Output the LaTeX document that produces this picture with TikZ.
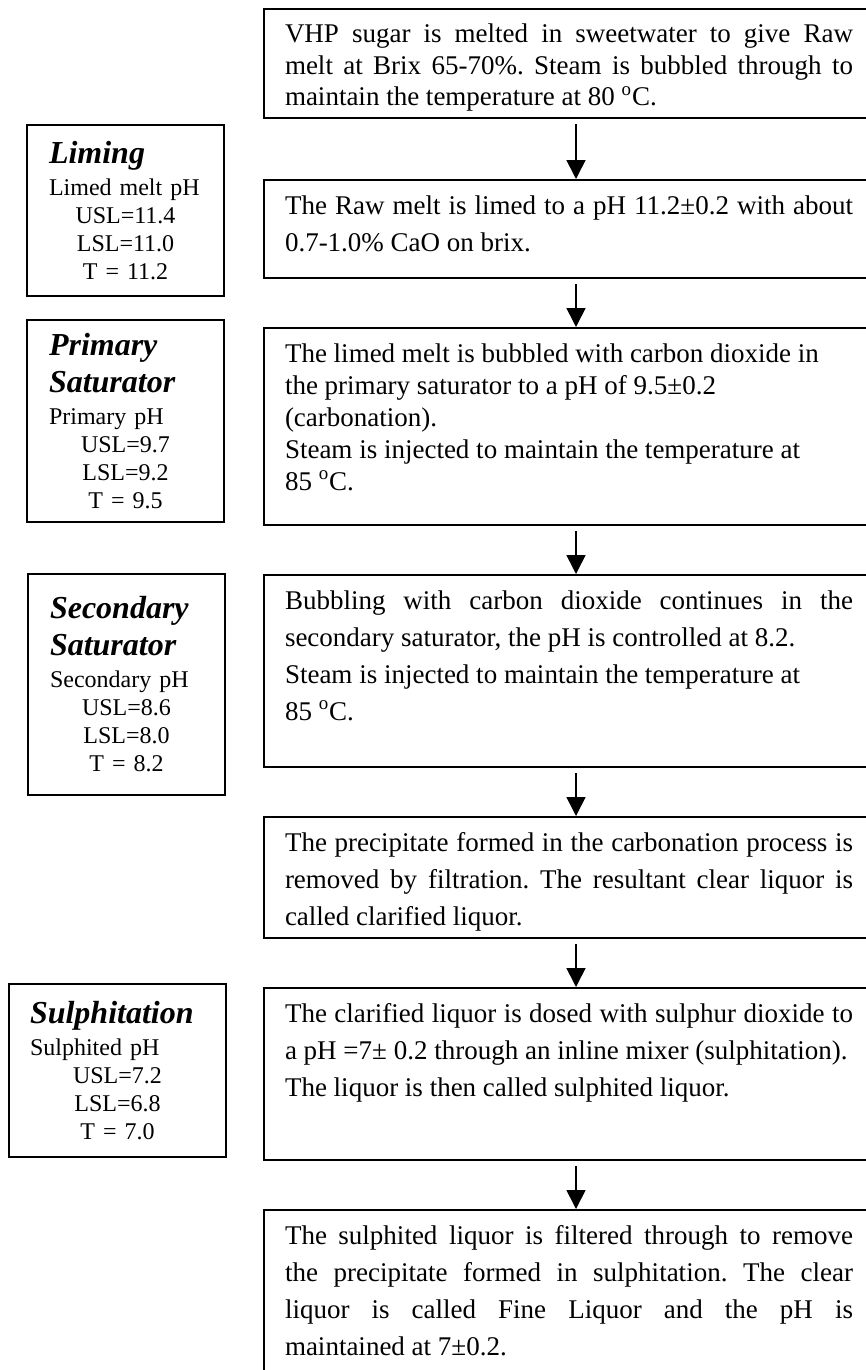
\documentclass[tikz,border=0pt]{standalone}
\usepackage{fontspec}
\setmainfont{Liberation Serif}
\usepackage{tikz}
\usetikzlibrary{positioning,arrows.meta}
\frenchspacing

\newcommand{\degC}{\textsuperscript{o}C}
\newcommand{\steptitle}[1]{{\fontsize{16}{18.5}\selectfont\bfseries\itshape #1\par}\vspace{2pt}}

\begin{document}
\begin{tikzpicture}[
			x=0.5pt, y=-0.5pt, node distance=24pt,
			procbox/.style={draw, line width=1pt, anchor=north west, text width=284pt, inner xsep=10.5pt, inner ysep=7pt, text height=10pt, align=justify, font=\fontsize{13.5}{18.5}\selectfont},
			specbox/.style={draw, line width=1pt, text width=76.5pt, inner xsep=11pt, align=left, font=\fontsize{12}{14}\selectfont},
			flow/.style={-{Triangle[length=9.5pt,width=9.5pt]}, line width=0.8pt, shorten <=2.5pt},
		]
		
			\path[use as bounding box, clip] (0,0) rectangle (866,1370);
		
			%Nodes
			\node[procbox, text depth=30.5pt, font=\fontsize{13.5}{15.75}\selectfont]	(melt)	at (263,8)
				{VHP sugar is melted in sweetwater to give Raw\linebreak melt at Brix 65-70\%. Steam is bubbled through to\linebreak maintain the temperature at 80 \degC.};
			\node[procbox, text depth=25pt, below=30pt of melt]	(limed)
				{The Raw melt is limed to a pH 11.2±0.2 with about\linebreak 0.7-1.0\% CaO on brix.};
			\node[procbox, text depth=74.5pt, font=\fontsize{13.5}{16}\selectfont, below=of limed]	(prim)
				{The limed melt is bubbled with carbon dioxide in\newline the primary saturator to a pH of 9.5±0.2\newline (carbonation).\newline Steam is injected to maintain the temperature at\newline 85 \degC.};
			\node[procbox, text depth=72pt, below=of prim]	(sec)
				{Bubbling with carbon dioxide continues in the\linebreak secondary saturator, the pH is controlled at 8.2.\newline Steam is injected to maintain the temperature at\newline 85 \degC.};
			\node[procbox, text depth=36.5pt, below=of sec]	(filt)
				{The precipitate formed in the carbonation process is\linebreak removed by filtration. The resultant clear liquor is\linebreak called clarified liquor.};
			\node[procbox, text depth=62pt, below=of filt]	(sulph)
				{The clarified liquor is dosed with sulphur dioxide to\linebreak a pH =7± 0.2 through an inline mixer (sulphitation).\newline The liquor is then called sulphited liquor.};
			\node[procbox, text depth=80pt, below=of sulph]	(fine)
				{The sulphited liquor is filtered through to remove\linebreak the precipitate formed in sulphitation. The clear\linebreak liquor is called Fine Liquor and the pH is\linebreak maintained at 7±0.2.};
		
			\node[specbox, minimum height=85.5pt]	(limingspec)	at (125.5,210.5)
				{\steptitle{Liming}Limed melt pH\par{\centering USL=11.4\\ LSL=11.0\\ T = 11.2\par}};
			\node[specbox, minimum height=101pt]	(primspec)	at (125.5,421)
				{\steptitle{Primary\\ Saturator}Primary pH\par{\centering USL=9.7\\ LSL=9.2\\ T = 9.5\par}};
			\node[specbox, minimum height=110.5pt]	(secspec)	at (126.5,684.5)
				{\steptitle{Secondary\\ Saturator}Secondary pH\par{\centering USL=8.6\\ LSL=8.0\\ T = 8.2\par}};
			\node[specbox, minimum height=86.5pt, text width=87.5pt, inner xsep=10.5pt]	(sulphspec)	at (117.5,1070.5)
				{\steptitle{Sulphitation}Sulphited pH\par{\centering USL=7.2\\ LSL=6.8\\ T = 7.0\par}};
		
			\coordinate (axis) at (576,0);
		
			%Lines
			\draw[flow]	(melt.south -| axis) -- (limed.north -| axis);
			\draw[flow]	(limed.south -| axis) -- (prim.north -| axis);
			\draw[flow]	(prim.south -| axis) -- (sec.north -| axis);
			\draw[flow]	(sec.south -| axis) -- (filt.north -| axis);
			\draw[flow]	(filt.south -| axis) -- (sulph.north -| axis);
			\draw[flow]	(sulph.south -| axis) -- (fine.north -| axis);
		
		\end{tikzpicture}
\end{document}
